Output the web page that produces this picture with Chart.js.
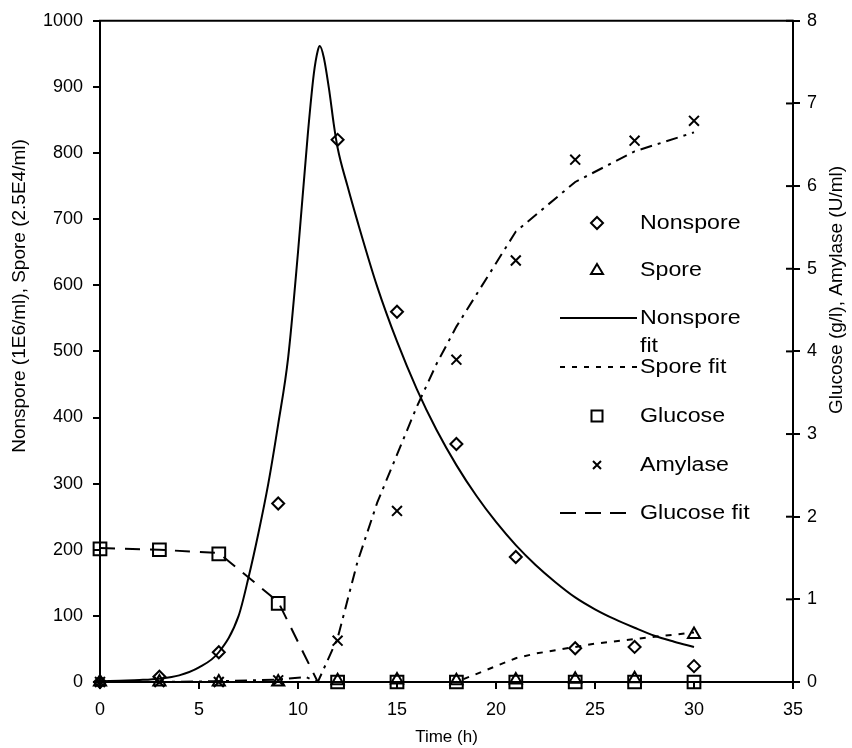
<!DOCTYPE html>
<html>
<head>
<meta charset="utf-8">
<script src="https://cdn.jsdelivr.net/npm/chart.js@4.4.1/dist/chart.umd.min.js"></script>
<style>
  html, body { margin: 0; padding: 0; background: #fff; }
  canvas { display: block; }
</style>
</head>
<body>
<canvas id="myChart" width="852" height="748"></canvas>
<script>
// measured points (sampling times in h)
const timeH = [0, 3, 6, 9, 12, 15, 18, 21, 24, 27, 30];
const nonspore = [0, 8, 45, 270, 820, 560, 360, 189, 51, 53, 24];
const spore = [0, 0, 0, 0, 2, 3, 2, 3, 4, 5, 72];
const glucose = [1.61, 1.60, 1.55, 0.95, 0, 0, 0, 0, 0, 0, 0];
const amylase = [0, 0, 0, 0.02, 0.5, 2.07, 3.9, 5.1, 6.32, 6.55, 6.79];

// fitted curves
const nonsporeFitT = [0, 1, 2, 3, 4, 5, 6, 7, 7.5, 8, 8.5, 9, 9.5, 10, 10.5, 10.8, 11, 11.1, 11.3, 11.6, 11.8, 12, 12.5, 13, 14, 15, 16, 17, 18, 19, 20, 21, 22, 23, 24, 25, 26, 27, 28, 29, 30];
const nonsporeFitV = [1, 2, 3, 5, 10, 22, 45, 100, 158, 225, 300, 390, 490, 650, 830, 920, 955, 962, 945, 890, 845, 808, 750, 697, 598, 515, 443, 381, 328, 282, 242, 207, 177, 151, 128, 110, 95, 82, 70, 61, 53];
const sporeFitT = [0, 18, 19, 20, 21, 22, 23, 24, 25, 27, 30];
const sporeFitV = [0, 0, 12, 24, 36, 43, 48, 53, 58, 65, 75];
const glucoseFitT = [0, 3, 6, 9, 11];
const glucoseFitV = [1.62, 1.60, 1.56, 0.97, 0];
const amylaseFitT = [0, 3, 6, 9, 10.4, 11, 12, 13, 14, 15, 16, 17, 18, 21, 24, 27, 30];
const amylaseFitV = [0, 0, 0.01, 0.03, 0.06, 0, 0.53, 1.45, 2.17, 2.75, 3.33, 3.85, 4.3, 5.45, 6.05, 6.42, 6.65];

const leftTicks = [0, 100, 200, 300, 400, 500, 600, 700, 800, 900, 1000];
const rightTicks = [0, 1, 2, 3, 4, 5, 6, 7, 8];
const xTicks = [0, 5, 10, 15, 20, 25, 30, 35];

const FONT = '"Liberation Sans", Arial, Helvetica, sans-serif';

function pts(xs, ys) {
    return xs.map((x, i) => ({ x: x, y: ys[i] }));
}

function markerSet(label, ys, style, radius, axis) {
    return {
        label: label,
        data: pts(timeH, ys),
        yAxisID: axis,
        showLine: false,
        pointStyle: style,
        pointRadius: radius,
        pointBorderWidth: 2,
        pointBorderColor: '#000',
        pointBackgroundColor: 'rgba(0,0,0,0)',
        clip: false
    };
}

function fitSet(label, xs, ys, dash, axis, mode) {
    return {
        label: label,
        data: pts(xs, ys),
        yAxisID: axis,
        showLine: true,
        borderColor: '#000',
        borderWidth: 2,
        borderDash: dash,
        pointRadius: 0,
        tension: 0,
        cubicInterpolationMode: mode || 'default',
        clip: false
    };
}

// legend drawn inside the plot, like the original
const legendRows = [
    { text: ['Nonspore'], kind: 'diamond', y: 223 },
    { text: ['Spore'], kind: 'triangle', y: 270 },
    { text: ['Nonspore', 'fit'], kind: 'line', dash: [], y: 318 },
    { text: ['Spore fit'], kind: 'line', dash: [5, 7], y: 367 },
    { text: ['Glucose'], kind: 'square', y: 416 },
    { text: ['Amylase'], kind: 'cross', y: 465 },
    { text: ['Glucose fit'], kind: 'line', dash: [16, 9], y: 513, end: 627 }
];

function drawSymbol(ctx, kind, x, y) {
    ctx.beginPath();
    if (kind === 'diamond') {
        ctx.moveTo(x - 6, y); ctx.lineTo(x, y - 6); ctx.lineTo(x + 6, y); ctx.lineTo(x, y + 6); ctx.closePath();
    } else if (kind === 'triangle') {
        ctx.moveTo(x, y - 6); ctx.lineTo(x + 6, y + 4); ctx.lineTo(x - 6, y + 4); ctx.closePath();
    } else if (kind === 'square') {
        ctx.rect(x - 5.5, y - 5.5, 11, 11);
    } else if (kind === 'cross') {
        ctx.moveTo(x - 4, y - 4); ctx.lineTo(x + 4, y + 4);
        ctx.moveTo(x + 4, y - 4); ctx.lineTo(x - 4, y + 4);
    }
    ctx.stroke();
}

const extrasPlugin = {
    id: 'extras',
    afterDraw(chart) {
        const ctx = chart.ctx;
        const area = chart.chartArea;
        const y2 = chart.scales.y2;
        ctx.save();
        ctx.strokeStyle = '#000';
        ctx.fillStyle = '#000';
        ctx.lineWidth = 2;

        // top frame line
        ctx.beginPath();
        ctx.moveTo(area.left - 1, area.top);
        ctx.lineTo(area.right + 1, area.top);
        ctx.stroke();

        // inner half of the right axis ticks
        rightTicks.forEach(v => {
            const py = y2.getPixelForValue(v);
            ctx.beginPath();
            ctx.moveTo(area.right - 7, py);
            ctx.lineTo(area.right, py);
            ctx.stroke();
        });

        // axis titles on both sides, reading upwards
        ctx.font = '19px ' + FONT;
        ctx.textAlign = 'center';
        ctx.textBaseline = 'middle';
        ctx.save();
        ctx.translate(20, 296);
        ctx.rotate(-Math.PI / 2);
        ctx.fillText('Nonspore (1E6/ml), Spore (2.5E4/ml)', 0, 0);
        ctx.restore();
        ctx.save();
        ctx.translate(837, 290);
        ctx.rotate(-Math.PI / 2);
        ctx.fillText('Glucose (g/l), Amylase (U/ml)', 0, 0);
        ctx.restore();

        // legend
        legendRows.forEach(row => {
            ctx.setLineDash([]);
            ctx.lineWidth = 2;
            if (row.kind === 'line') {
                ctx.setLineDash(row.dash);
                ctx.beginPath();
                ctx.moveTo(560, row.y);
                ctx.lineTo(row.end || 637, row.y);
                ctx.stroke();
                ctx.setLineDash([]);
            } else {
                drawSymbol(ctx, row.kind, 597, row.y);
            }
            ctx.save();
            ctx.font = '20px ' + FONT;
            ctx.textAlign = 'left';
            ctx.textBaseline = 'middle';
            ctx.translate(640, row.y);
            ctx.scale(1.16, 1);
            row.text.forEach((t, i) => ctx.fillText(t, 0, i * 28));
            ctx.restore();
        });
        ctx.restore();
    }
};

const axisGrid = { drawOnChartArea: false, drawTicks: true, tickLength: 7, color: '#000', lineWidth: 2 };
const axisBorder = { color: '#000', width: 2 };
const plainLabel = v => String(v);

const myChart = document.getElementById('myChart').getContext('2d');

const fermentChart = new Chart(myChart, {
    type: 'scatter',
    data: {
        datasets: [
            markerSet('Nonspore', nonspore, 'rectRot', 6, 'y'),
            markerSet('Spore', spore, 'triangle', 7, 'y'),
            fitSet('Nonspore fit', nonsporeFitT, nonsporeFitV, [], 'y', 'monotone'),
            fitSet('Spore fit', sporeFitT, sporeFitV, [6, 7], 'y'),
            markerSet('Glucose', glucose, 'rect', 9, 'y2'),
            markerSet('Amylase', amylase, 'crossRot', 7, 'y2'),
            fitSet('Glucose fit', glucoseFitT, glucoseFitV, [15, 10], 'y2'),
            fitSet('Amylase fit', amylaseFitT, amylaseFitV, [12, 6, 3, 6], 'y2')
        ]
    },
    options: {
        responsive: false,
        animation: false,
        layout: { padding: { top: 16, left: 0, right: 0, bottom: 0 } },
        plugins: {
            legend: { display: false },
            tooltip: { enabled: false }
        },
        scales: {
            x: {
                type: 'linear',
                min: 0,
                max: 35,
                afterBuildTicks: s => { s.ticks = xTicks.map(v => ({ value: v })); },
                afterFit: s => { s.height = 66; },
                ticks: { color: '#000', padding: 10, maxRotation: 0, callback: plainLabel, font: { family: FONT, size: 18 } },
                grid: axisGrid,
                border: axisBorder,
                title: {
                    display: true,
                    text: 'Time (h)',
                    color: '#000',
                    padding: { top: 0, bottom: 0 },
                    font: { family: FONT, size: 17 }
                }
            },
            y: {
                position: 'left',
                min: 0,
                max: 1000,
                afterBuildTicks: s => { s.ticks = leftTicks.map(v => ({ value: v })); },
                afterFit: s => { s.width = 100; },
                ticks: { color: '#000', padding: 10, callback: plainLabel, font: { family: FONT, size: 18 } },
                grid: axisGrid,
                border: axisBorder
            },
            y2: {
                position: 'right',
                min: 0,
                max: 8,
                afterBuildTicks: s => { s.ticks = rightTicks.map(v => ({ value: v })); },
                afterFit: s => { s.width = 59; },
                ticks: { color: '#000', padding: 7, callback: plainLabel, font: { family: FONT, size: 18 } },
                grid: axisGrid,
                border: axisBorder
            }
        }
    },
    plugins: [extrasPlugin]
});
</script>
</body>
</html>
